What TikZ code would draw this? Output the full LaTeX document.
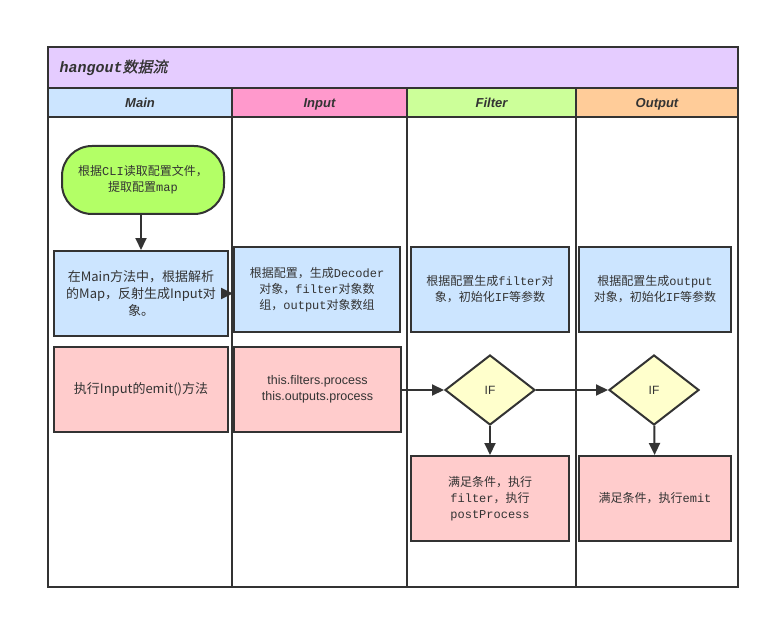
\documentclass[tikz,border=0pt]{standalone}
\usepackage{fontspec}
\setmainfont{Noto Sans CJK SC}
\setmonofont{Liberation Mono}
\newfontfamily\hdfont{Liberation Sans}
\newfontfamily\cjkslant[FakeSlant=0.2,FakeBold=1]{Noto Sans CJK SC}
\usepackage{xcolor}
\usetikzlibrary{positioning,arrows.meta,shapes.geometric}
\definecolor{linegray}{HTML}{333333}
\definecolor{titlebg}{HTML}{E5CCFF}
\definecolor{mainbg}{HTML}{CCE5FF}
\definecolor{inputbg}{HTML}{FF99CC}
\definecolor{filterbg}{HTML}{CCFF99}
\definecolor{outputbg}{HTML}{FFCC99}
\definecolor{startbg}{HTML}{B3FF66}
\definecolor{stepbg}{HTML}{FFCCCC}
\definecolor{ifbg}{HTML}{FFFFCC}

\begin{document}
\begin{tikzpicture}[
  x=1pt, y=-1pt,
  frame/.style={draw=linegray, line width=2pt, inner sep=0pt},
  lanehead/.style={frame, minimum height=29pt, text height=11pt, text depth=1pt,
    font=\hdfont\fontsize{13}{15}\selectfont\bfseries\itshape, text=linegray},
  lanebody/.style={frame, minimum height=470pt},
  box/.style={draw=linegray, line width=2pt, align=center, text=linegray, inner sep=3pt,
    minimum height=85pt, font=\fontsize{12}{16}\selectfont},
  cfg/.style={box, fill=mainbg},
  act/.style={box, fill=stepbg},
  decision/.style={diamond, draw=linegray, line width=2pt, fill=ifbg, inner sep=0pt,
    minimum width=90pt, minimum height=70pt, text=linegray, font=\hdfont\fontsize{12}{14}\selectfont},
  arr/.style={-{Triangle[length=12pt,width=11pt]}, draw=linegray, line width=2pt}
]
\useasboundingbox (0,0) rectangle (770,620);
% pool and lanes
\node[frame, fill=titlebg, minimum width=690pt, minimum height=41pt] (pool) at (393,67.5) {};
\node[anchor=west, text=linegray, font=\fontsize{15}{17}\selectfont] (title) at (56,67.5) {{\ttfamily\bfseries\itshape hangout}{\cjkslant 数据流}};
\node[lanehead, fill=mainbg, minimum width=184pt] (hmain) at (140,102.5) {Main};
\node[lanehead, fill=inputbg, minimum width=175pt] (hinput) at (319.5,102.5) {Input};
\node[lanehead, fill=filterbg, minimum width=169pt] (hfilter) at (491.5,102.5) {Filter};
\node[lanehead, fill=outputbg, minimum width=162pt] (houtput) at (657,102.5) {Output};
\node[lanebody, minimum width=184pt] (lmain) at (140,352) {};
\node[lanebody, minimum width=175pt] (linput) at (319.5,352) {};
\node[lanebody, minimum width=169pt] (lfilter) at (491.5,352) {};
\node[lanebody, minimum width=162pt] (loutput) at (657,352) {};

% main lane
\node[box, fill=startbg, rounded corners=30pt, minimum width=162pt, minimum height=68pt] (start) at (143,180)
  {根据\texttt{CLI}读取配置文件，\\提取配置\texttt{map}};
\node[cfg, minimum width=174pt, font=\fontsize{13}{17}\selectfont] (mainload) at (141,293.5)
  {在Main方法中，根据解析\\的Map，反射生成Input对\\象。};
\node[act, minimum width=174pt, font=\fontsize{13}{17}\selectfont] (emit) at (141,389.5)
  {执行Input的emit()方法};

% input lane
\node[cfg, minimum width=166pt] (inputcfg) at (317,289.5)
  {根据配置，生成\texttt{Decoder}\\对象，\texttt{filter}对象数\\组，\texttt{output}对象数组};
\node[act, minimum width=167pt, font=\hdfont\fontsize{12.5}{16}\selectfont] (process) at (317.5,389.5)
  {this.filters.process\\this.outputs.process};

% filter lane
\node[cfg, minimum width=158pt] (filtercfg) at (490,289.5)
  {根据配置生成\texttt{filter}对\\象，初始化\texttt{IF}等参数};
\node[decision] (iffilter) at (490,390) {IF};
\node[act, minimum width=158pt] (filterdo) at (490,498.5)
  {满足条件，执行\\\texttt{filter}，执行\\\texttt{postProcess}};

% output lane
\node[cfg, minimum width=152pt] (outputcfg) at (655,289.5)
  {根据配置生成\texttt{output}\\对象，初始化\texttt{IF}等参数};
\node[decision] (ifoutput) at (654,390) {IF};
\node[act, minimum width=152pt] (outputdo) at (655,498.5)
  {满足条件，执行\texttt{emit}};

\draw[arr] (start.south -| mainload.north) -- (mainload.north);
\draw[arr] (mainload.east) -- (inputcfg.west |- mainload.east);
\draw[arr] (process.east |- iffilter.west) -- (iffilter.west);
\draw[arr] (iffilter) -- (ifoutput);
\draw[arr] (iffilter) -- (filterdo);
\draw[arr] (ifoutput) -- (outputdo);
\end{tikzpicture}
\end{document}
